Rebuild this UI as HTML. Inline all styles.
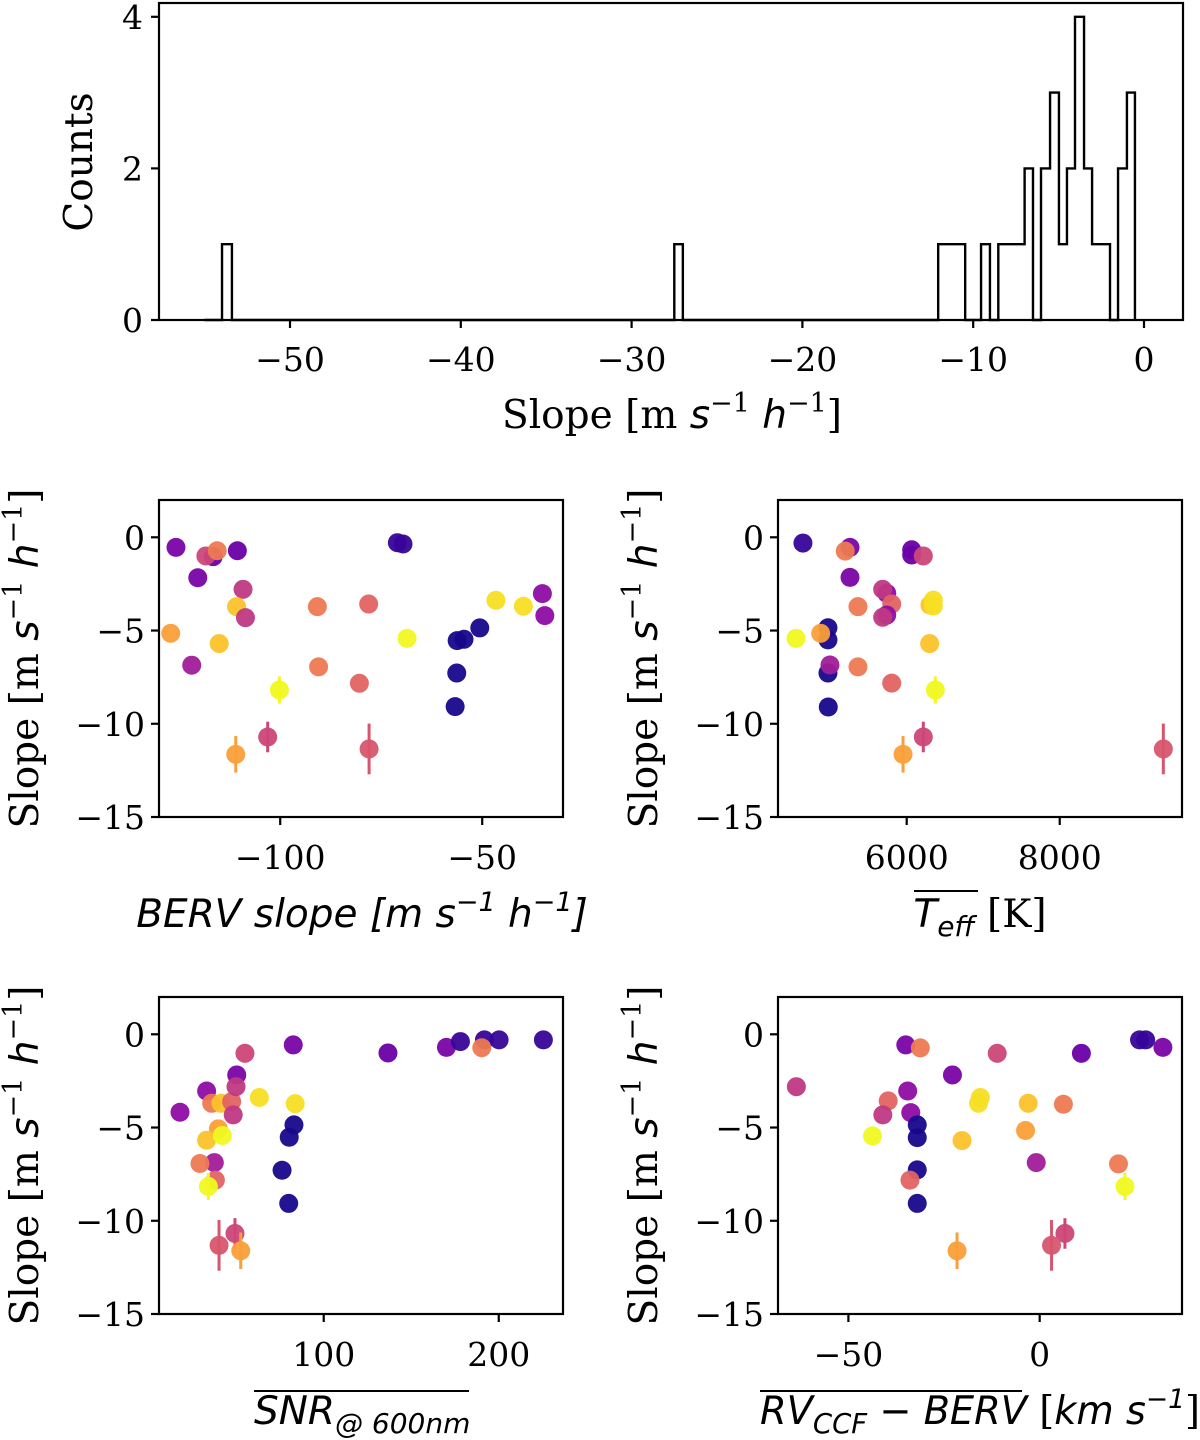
<!DOCTYPE html>
<html><head><meta charset="utf-8">
<style>
html,body{margin:0;padding:0;background:#fff;}
svg{display:block;}
.tick{font-family:"DejaVu Serif","Liberation Serif",serif;font-size:33px;fill:#000;}
.lab{font-family:"DejaVu Serif","Liberation Serif",serif;font-size:39px;fill:#000;}
.it{font-family:"DejaVu Sans","Liberation Sans",sans-serif;font-style:italic;}
</style></head>
<body>
<svg id="fig" width="1200" height="1440" viewBox="0 0 1200 1440" xmlns="http://www.w3.org/2000/svg"></svg>
<script>
// ---------- histogram data ----------
const binLeft  = [-53.98,-27.5,-12.05,-9.54,-8.53,-6.99,-6.03,-5.50,-4.98,-4.51,-4.04,-3.51,-3.04,-1.52,-1.00];
const binRight = [-53.40,-27.0,-10.47,-9.02,-6.99,-6.50,-5.50,-4.98,-4.51,-4.04,-3.51,-3.04,-1.99,-1.00,-0.53];
const binCounts= [1,1,1,1,1,2,2,3,1,2,4,2,1,2,3];
const histXTicks = [-50,-40,-30,-20,-10,0];
const histYTicks = [0,2,4];

// ---------- scatter data ----------
const slopeTicks = [0,-5,-10,-15];
const bervX = [-125.8,-116.6,-118.4,-115.6,-110.6,-120.4,-109.2,-110.8,-108.6,-127.1,-115.1,-121.9,-100.2,-103.1,-111.0,-90.8,-78.1,-90.5,-80.4,-78.0,-71.0,-69.6,-68.6,-56.2,-54.5,-50.6,-56.3,-56.7,-46.6,-39.8,-35.1,-34.5];
const bervY = [-0.54,-1.04,-1.0,-0.72,-0.72,-2.17,-2.79,-3.72,-4.31,-5.15,-5.70,-6.86,-8.19,-10.71,-11.64,-3.72,-3.58,-6.95,-7.83,-11.35,-0.29,-0.36,-5.42,-5.54,-5.47,-4.86,-7.28,-9.08,-3.38,-3.70,-3.02,-4.20];
const bervE = [0,0,0,0,0,0,0,0,0,0,0,0,0.73,0.82,0.98,0,0,0,0,1.36,0,0,0,0,0,0,0,0,0,0,0,0];
const bervC = [0.24,0.2,0.5,0.67,0.2,0.24,0.45,0.87,0.45,0.78,0.87,0.35,1.0,0.5,0.78,0.67,0.6,0.67,0.6,0.55,0.08,0.08,1.0,0.02,0.02,0.02,0.02,0.02,0.94,0.94,0.3,0.3];
const bervTicks = [-100,-50];
const teffX = [4644,6065,6065,5259,5197,6217,5259,5739,5686,5804,5363,5739,5686,6304,6348,6348,4971,4971,4876,4553,6300,4971,4997,5363,5804,6374,4975,6217,5952,9354];
const teffY = [-0.31,-0.67,-0.95,-0.54,-0.74,-1.0,-2.15,-3.0,-2.79,-3.58,-3.72,-4.17,-4.29,-3.63,-3.37,-3.69,-4.85,-5.50,-5.15,-5.42,-5.70,-7.28,-6.85,-6.95,-7.82,-8.19,-9.10,-10.71,-11.64,-11.35];
const teffE = [0,0,0,0,0,0,0,0,0,0,0,0,0,0,0,0,0,0,0,0,0,0,0,0,0,0.73,0,0.82,0.98,1.36];
const teffC = [0.08,0.2,0.2,0.24,0.67,0.5,0.24,0.3,0.45,0.6,0.67,0.3,0.45,0.87,0.94,0.94,0.02,0.02,0.78,1.0,0.87,0.02,0.35,0.67,0.6,1.0,0.02,0.5,0.78,0.55];
const teffTicks = [6000,8000];
const snrX = [17.9,33.1,36.0,41.3,47.4,50.3,49.9,48.3,55.0,82.6,63.2,83.7,39.8,33.1,42.1,83.0,80.3,76.2,80.0,37.5,29.3,38.1,34.1,49.3,40.2,52.6,136.7,170.1,178.1,191.8,190.3,200.2,225.5];
const snrY = [-4.18,-3.04,-3.70,-3.70,-3.61,-2.18,-2.81,-4.32,-1.02,-0.57,-3.39,-3.72,-5.07,-5.68,-5.43,-4.86,-5.52,-7.29,-9.07,-6.88,-6.93,-7.82,-8.16,-10.68,-11.32,-11.61,-1.0,-0.70,-0.39,-0.30,-0.72,-0.30,-0.30];
const snrE = [0,0,0,0,0,0,0,0,0,0,0,0,0,0,0,0,0,0,0,0,0,0,0.73,0.82,1.36,0.98,0,0,0,0,0,0,0];
const snrC = [0.3,0.3,0.67,0.87,0.6,0.24,0.45,0.45,0.5,0.24,0.94,0.94,0.78,0.87,1.0,0.02,0.02,0.02,0.02,0.35,0.67,0.6,1.0,0.5,0.55,0.78,0.2,0.24,0.08,0.08,0.67,0.08,0.08];
const snrTicks = [100,200];
const rvX = [-63.6,-35.0,-31.2,-11.1,10.9,26.1,27.7,32.2,-22.8,-34.5,-39.6,-41.0,-33.7,-15.5,-16.0,-3.0,6.2,-3.7,-32.0,-32.0,-32.0,-32.0,-33.9,-43.7,-20.3,-0.9,20.6,22.3,6.6,3.1,-21.6];
const rvY = [-2.81,-0.57,-0.73,-1.02,-1.02,-0.30,-0.30,-0.70,-2.18,-3.04,-3.57,-4.32,-4.20,-3.39,-3.70,-3.70,-3.75,-5.16,-4.86,-5.54,-7.27,-9.07,-7.82,-5.45,-5.70,-6.88,-6.95,-8.16,-10.68,-11.32,-11.61];
const rvE = [0,0,0,0,0,0,0,0,0,0,0,0,0,0,0,0,0,0,0,0,0,0,0,0,0,0,0,0.73,0.82,1.36,0.98];
const rvC = [0.45,0.24,0.67,0.5,0.2,0.08,0.08,0.24,0.24,0.3,0.6,0.45,0.3,0.94,0.94,0.87,0.67,0.78,0.02,0.02,0.02,0.02,0.6,1.0,0.87,0.35,0.67,1.0,0.5,0.55,0.78];
const rvTicks = [-50,0];

const NS = "http://www.w3.org/2000/svg";
const fig = document.getElementById('fig');
function mk(tag, attrs, parent){
  const e = document.createElementNS(NS, tag);
  for (const k in attrs) e.setAttribute(k, attrs[k]);
  (parent||fig).appendChild(e);
  return e;
}
const stops = ["#0d0887","#41049d","#6a00a8","#8f0da4","#b12a90","#cc4778","#e16462","#f2844b","#fca636","#fcce25","#f0f921"];
function hex(h){return [parseInt(h.substr(1,2),16),parseInt(h.substr(3,2),16),parseInt(h.substr(5,2),16)];}
function plasma(t){
  t=Math.max(0,Math.min(1,t)); const p=t*10; const i=Math.min(9,Math.floor(p)); const f=p-i;
  const a=hex(stops[i]), b=hex(stops[i+1]);
  return 'rgb('+a.map((v,k)=>Math.round(v+(b[k]-v)*f)).join(',')+')';
}
const SUP = '<tspan font-size="27" dy="-16">\u22121</tspan><tspan dy="16">';

// ---------- histogram ----------
(function(){
  const L=159,R=1183,T=3,B=320;
  const hx = v => 1144 + v*17.08;
  const hy = v => 320 - v*75.8;
  const g = mk('g',{});
  
  
  let d = 'M'+hx(-55.0)+' '+hy(0);
  for (let i=0;i<binLeft.length;i++){
    const prevAdj = i>0 && Math.abs(binLeft[i]-binRight[i-1])<0.02;
    if(!prevAdj) d += ' L'+hx(binLeft[i])+' '+hy(0);
    d += ' L'+hx(binLeft[i])+' '+hy(binCounts[i]);
    d += ' L'+hx(binRight[i])+' '+hy(binCounts[i]);
    const nextAdj = i+1<binLeft.length && Math.abs(binLeft[i+1]-binRight[i])<0.02;
    if(!nextAdj) d += ' L'+hx(binRight[i])+' '+hy(0);
  }
  const step = mk('path',{d:d,fill:'none',stroke:'#000','stroke-width':2.4,'stroke-linejoin':'miter'},g);
  
  
  const box = mk('rect',{x:L,y:T,width:R-L,height:B-T,fill:'none',stroke:'#000','stroke-width':2.2},g);
  
  
  histXTicks.forEach(v=>{
    mk('line',{x1:hx(v),x2:hx(v),y1:B,y2:B+8,stroke:'#000','stroke-width':2.2},g);
    const t=mk('text',{x:hx(v),y:B+51,'text-anchor':'middle',class:'tick'},g);
    t.textContent = v<0?'\u2212'+(-v):String(v);
    
    
  });
  histYTicks.forEach(v=>{
    mk('line',{x1:L-8,x2:L,y1:hy(v),y2:hy(v),stroke:'#000','stroke-width':2.2},g);
    const t=mk('text',{x:L-16,y:hy(v)+12,'text-anchor':'end',class:'tick'},g);
    t.textContent=String(v);
    
    
  });
  const yl=mk('text',{x:0,y:0,transform:'translate(92,162) rotate(-90)','text-anchor':'middle',class:'lab'},g);
  yl.textContent='Counts';
  
  
  const xl=mk('text',{x:672,y:428,'text-anchor':'middle',class:'lab'},g);
  xl.innerHTML='Slope [m <tspan class="it">s</tspan>'+SUP+' </tspan><tspan class="it">h</tspan>'+SUP+']</tspan>';
  
  
})();

// ---------- scatter panels ----------
function scatter(name, L, R, T, B, xmin, xmax, xs, ys, es, cs, ticks, ylabX){
  const g = mk('g',{});
  
  
  const sx = v => L + (v-xmin)/(xmax-xmin)*(R-L);
  const y0 = T + 2.0*(B-T)/17;
  const sy = v => y0 - v*(B-T)/17;
  xs.forEach((xv,i)=>{
    const col = plasma(cs[i]);
    if (es[i]>0){
      const eb = mk('line',{x1:sx(xv),x2:sx(xv),y1:sy(ys[i]+es[i]),y2:sy(ys[i]-es[i]),stroke:col,'stroke-width':3},g);
      
      
    }
    const c = mk('circle',{cx:sx(xv),cy:sy(ys[i]),r:9.5,fill:col,'fill-opacity':0.95},g);
    
    
  });
  const box = mk('rect',{x:L,y:T,width:R-L,height:B-T,fill:'none',stroke:'#000','stroke-width':2.2},g);
  
  
  slopeTicks.forEach(v=>{
    mk('line',{x1:L-8,x2:L,y1:sy(v),y2:sy(v),stroke:'#000','stroke-width':2.2},g);
    const t=mk('text',{x:L-14,y:sy(v)+12,'text-anchor':'end',class:'tick'},g);
    t.textContent = v<0?'\u2212'+(-v):String(v);
    
    
  });
  ticks.forEach(v=>{
    mk('line',{x1:sx(v),x2:sx(v),y1:B,y2:B+8,stroke:'#000','stroke-width':2.2},g);
    const t=mk('text',{x:sx(v),y:B+52,'text-anchor':'middle',class:'tick'},g);
    t.textContent = v<0?'\u2212'+(-v):String(v);
    
    
  });
  const yl=mk('text',{x:0,y:0,transform:'translate('+ylabX+','+((T+B)/2)+') rotate(-90)','text-anchor':'middle',class:'lab'},g);
  yl.innerHTML='Slope [m <tspan class="it">s</tspan>'+SUP+' </tspan><tspan class="it">h</tspan>'+SUP+']</tspan>';
  
  
  return g;
}
const gA = scatter('berv-panel',159,563,500,817,-130,-30,bervX,bervY,bervE,bervC,bervTicks,38);
const gB = scatter('teff-panel',778,1182,500,817,4318,9598,teffX,teffY,teffE,teffC,teffTicks,657);
const gC = scatter('snr-panel',159,563,997,1314,5.9,236.7,snrX,snrY,snrE,snrC,snrTicks,38);
const gD = scatter('rv-panel',778,1182,997,1314,-68.4,37.2,rvX,rvY,rvE,rvC,rvTicks,657);

let t;
t=mk('text',{x:362,y:927,'text-anchor':'middle',class:'lab'},gA);
t.innerHTML='<tspan class="it">BERV slope [m s</tspan><tspan class="it" font-size="27" dy="-16">\u22121</tspan><tspan class="it" dy="16"> h</tspan><tspan class="it" font-size="27" dy="-16">\u22121</tspan><tspan class="it" dy="16">]</tspan>';



t=mk('text',{x:980,y:927,'text-anchor':'middle',class:'lab'},gB);
t.innerHTML='<tspan class="it">T</tspan><tspan class="it" font-size="28" dy="9">eff</tspan><tspan dy="-9"> [K]</tspan>';


t=mk('line',{x1:914,x2:978,y1:891,y2:891,stroke:'#000','stroke-width':2},gB);



t=mk('text',{x:254,y:1424,'text-anchor':'start',class:'lab'},gC);
t.innerHTML='<tspan class="it">SNR</tspan><tspan class="it" font-size="28" dy="9">@ 600nm</tspan>';


t=mk('line',{x1:254,x2:469,y1:1391,y2:1391,stroke:'#000','stroke-width':2},gC);



t=mk('text',{x:760,y:1424,'text-anchor':'start',class:'lab','textLength':440,'lengthAdjust':'spacingAndGlyphs'},gD);
t.innerHTML='<tspan class="it">RV</tspan><tspan class="it" font-size="28" dy="9">CCF</tspan><tspan class="it" dy="-9"> \u2212 BERV</tspan><tspan> [</tspan><tspan class="it">km s</tspan><tspan class="it" font-size="27" dy="-16">\u22121</tspan><tspan dy="16">]</tspan>';


t=mk('line',{x1:760,x2:1022,y1:1391,y2:1391,stroke:'#000','stroke-width':2},gD);


</script>
</body></html>
